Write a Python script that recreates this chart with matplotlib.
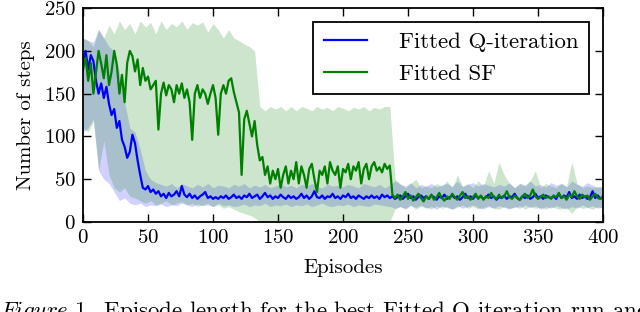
import matplotlib
matplotlib.use("Agg")
import matplotlib.pyplot as plt
import numpy as np

plt.rcParams['font.family'] = 'serif'
plt.rcParams['font.serif'] = ['cmr10']
plt.rcParams['mathtext.fontset'] = 'cm'
plt.rcParams['axes.formatter.use_mathtext'] = True

# mean episode length, every 2 episodes (0..400)
episodes = np.arange(0, 401, 2)
fqi_mean = [
	185, 200, 178, 195, 188, 165, 150, 162, 145, 158,
	138, 125, 132, 110, 118, 96, 88, 75, 82, 102,
	92, 72, 55, 40, 38, 42, 35, 38, 33, 36,
	30, 33, 28, 34, 30, 32, 36, 30, 42, 32,
	29, 33, 28, 31, 27, 30, 32, 35, 28, 30,
	27, 29, 27, 30, 28, 31, 27, 29, 32, 28,
	30, 27, 31, 29, 33, 28, 30, 32, 27, 30,
	34, 29, 31, 27, 30, 28, 32, 29, 27, 31,
	28, 30, 27, 29, 33, 28, 31, 27, 30, 36,
	29, 28, 31, 27, 30, 29, 33, 28, 30, 27,
	31, 29, 33, 28, 30, 27, 31, 29, 27, 30,
	28, 31, 28, 30, 27, 32, 29, 31, 28, 30,
	27, 29, 31, 27, 30, 33, 28, 30, 26, 29,
	31, 28, 30, 27, 31, 29, 26, 30, 28, 32,
	27, 29, 31, 28, 30, 26, 29, 33, 28, 30,
	27, 31, 28, 30, 27, 29, 32, 28, 30, 26,
	29, 28, 31, 27, 30, 29, 33, 28, 26, 30,
	28, 31, 27, 29, 33, 28, 30, 27, 31, 29,
	28, 30, 27, 33, 28, 31, 29, 35, 28, 30,
	27, 32, 28, 30, 27, 29, 36, 28, 31, 27,
	30,
]
sf_mean = [
	178, 192, 165, 186, 150, 175, 200, 185, 168, 195,
	160, 176, 200, 184, 150, 172, 140, 186, 200, 194,
	176, 190, 160, 180, 165, 170, 155, 160, 165, 108,
	150, 163, 148, 160, 155, 140, 160, 150, 162, 145,
	155, 140, 96, 150, 160, 145, 155, 150, 138, 150,
	160, 145, 102, 150, 160, 150, 165, 168, 152, 140,
	128, 55, 120, 130, 115, 100, 118, 90, 72, 76,
	55, 65, 45, 60, 50, 62, 40, 55, 65, 45,
	60, 50, 70, 45, 65, 55, 40, 62, 68, 50,
	35, 60, 55, 65, 45, 70, 60, 55, 65, 40,
	62, 58, 68, 50, 65, 60, 70, 45, 62, 68,
	50, 65, 70, 60, 64, 58, 68, 62, 66, 32,
	28, 32, 26, 30, 35, 27, 31, 25, 29, 33,
	28, 24, 30, 27, 32, 26, 29, 34, 28, 25,
	30, 27, 33, 29, 26, 31, 35, 28, 30, 26,
	29, 33, 27, 31, 26, 30, 28, 34, 29, 27,
	32, 28, 30, 36, 29, 27, 31, 28, 26, 30,
	33, 28, 31, 38, 30, 27, 29, 32, 28, 30,
	27, 31, 29, 34, 28, 30, 26, 32, 29, 36,
	30, 27, 32, 29, 31, 26, 30, 33, 28, 27,
	30,
]

# spread over runs, every 4 episodes (0..400)
band_episodes = np.arange(0, 401, 4)
fqi_low = [
	105, 110, 120, 60, 50, 45, 35, 25, 28, 22,
	20, 22, 18, 20, 19, 21, 18, 20, 19, 22,
	20, 18, 21, 19, 20, 18, 22, 19, 20, 18,
	19, 21, 18, 20, 19, 22, 18, 20, 19, 21,
	18, 20, 19, 21, 18, 20, 22, 19, 18, 20,
	19, 21, 18, 20, 19, 18, 21, 20, 19, 18,
	16, 18, 15, 19, 17, 20, 16, 18, 15, 19,
	17, 15, 19, 16, 18, 20, 17, 15, 18, 16,
	19, 17, 15, 18, 16, 20, 17, 19, 15, 18,
	16, 19, 17, 15, 18, 16, 20, 17, 19, 16,
	18,
]
fqi_high = [
	215, 212, 210, 225, 215, 205, 200, 175, 140, 110,
	105, 85, 60, 50, 46, 44, 42, 45, 40, 45,
	42, 40, 44, 41, 45, 40, 43, 42, 40, 44,
	42, 45, 40, 43, 41, 44, 40, 42, 45, 41,
	43, 40, 44, 42, 45, 41, 40, 44, 42, 43,
	41, 44, 42, 40, 45, 43, 41, 44, 40, 43,
	48, 44, 42, 46, 40, 44, 42, 45, 41, 43,
	45, 42, 48, 41, 44, 46, 42, 45, 43, 41,
	44, 42, 46, 40, 45, 43, 48, 42, 44, 41,
	46, 43, 45, 41, 48, 44, 42, 46, 43, 40,
	42,
]
sf_low = [
	110, 105, 118, 60, 95, 55, 40, 35, 40, 30,
	28, 25, 22, 25, 20, 22, 25, 20, 22, 24,
	20, 22, 18, 20, 22, 18, 20, 16, 18, 15,
	12, 10, 8, 5, 0, 0, 0, 0, 0, 0,
	0, 0, 0, 0, 0, 0, 0, 0, 0, 0,
	0, 0, 0, 0, 0, 0, 0, 0, 0, 0,
	15, 18, 16, 20, 15, 18, 17, 15, 19, 16,
	18, 15, 17, 20, 16, 18, 15, 17, 19, 16,
	15, 18, 16, 17, 19, 15, 18, 16, 17, 15,
	18, 16, 15, 17, 10, 18, 16, 17, 15, 18,
	16,
]
sf_high = [
	215, 212, 205, 225, 215, 230, 220, 235, 225, 232,
	220, 235, 228, 233, 220, 235, 225, 232, 228, 235,
	225, 233, 230, 234, 222, 232, 225, 215, 225, 215,
	212, 208, 205, 200, 135, 130, 135, 132, 135, 130,
	135, 130, 135, 133, 130, 135, 132, 134, 130, 135,
	133, 130, 134, 132, 135, 130, 134, 132, 135, 135,
	50, 45, 40, 45, 50, 40, 42, 40, 45, 42,
	48, 40, 55, 42, 45, 40, 48, 42, 60, 45,
	70, 55, 45, 40, 45, 42, 48, 60, 40, 45,
	42, 40, 45, 42, 70, 45, 40, 42, 40, 42,
	40,
]

fig = plt.figure(figsize=(6.4, 3.12), dpi=100)
ax = fig.add_axes([0.1297, 0.2885, 0.8125, 0.6855])

ax.fill_between(band_episodes, fqi_low, fqi_high, color='#0000ff', alpha=0.18, linewidth=0)
ax.fill_between(band_episodes, sf_low, sf_high, color='#008000', alpha=0.2, linewidth=0)
ax.plot(episodes, fqi_mean, color='#0000ff', linewidth=1.6, label='Fitted Q-iteration')
ax.plot(episodes, sf_mean, color='#008000', linewidth=1.6, label='Fitted SF')

ax.set_xlim(0, 400)
ax.set_ylim(0, 250)
ax.set_xticks(np.arange(0, 401, 50))
ax.set_yticks(np.arange(0, 251, 50))
ax.tick_params(direction='in', top=True, right=True, length=6, width=1,
	labelsize=15, pad=5)
for s in ax.spines.values():
	s.set_linewidth(1.3)

ax.set_xlabel('Episodes', fontsize=15, labelpad=9)
ax.set_ylabel('Number of steps', fontsize=15, labelpad=6)

leg = ax.legend(loc='upper right', fontsize=16.5, fancybox=False, framealpha=1,
	edgecolor='black', handlelength=1.9, handletextpad=1.4, borderaxespad=0.6,
	borderpad=0.45, labelspacing=0.5)
leg.get_frame().set_linewidth(1.3)

fig.text(0.0, -0.016, r'$\mathit{Figure\ 1.}$ Episode length for the best Fitted Q-iteration run and',
	fontsize=16.5, va='baseline', ha='left')

fig.savefig('out.png', dpi=100)
